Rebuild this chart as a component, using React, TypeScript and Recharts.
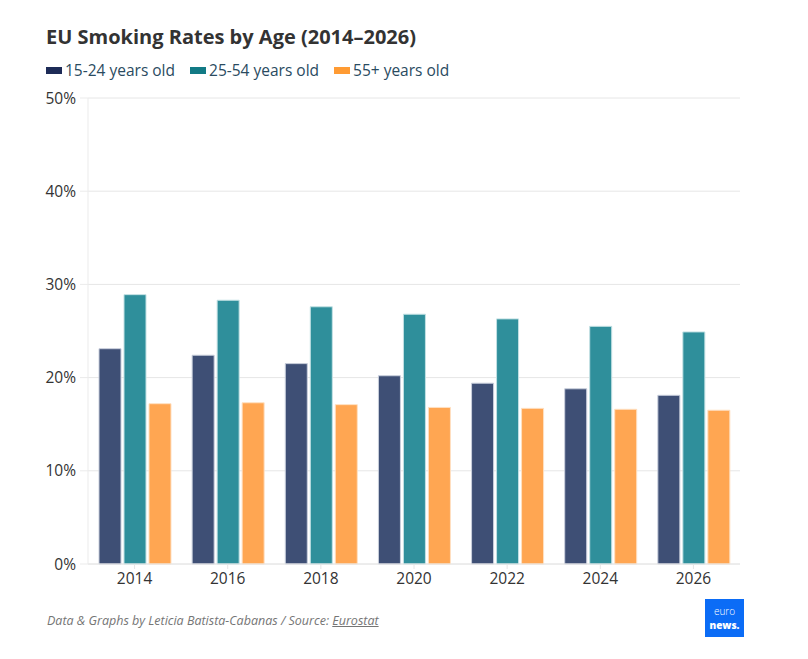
import React from 'react';
import { BarChart, Bar, XAxis, YAxis, CartesianGrid } from 'recharts';

const years = ['2014', '2016', '2018', '2020', '2022', '2024', '2026'];
const age15to24 = [23.1, 22.4, 21.5, 20.2, 19.4, 18.8, 18.1];
const age25to54 = [28.9, 28.3, 27.6, 26.8, 26.3, 25.5, 24.9];
const age55plus = [17.2, 17.3, 17.1, 16.8, 16.7, 16.6, 16.5];
const yTicks = [0, 10, 20, 30, 40, 50];

const data = years.map((year, i) => ({
  year,
  young: age15to24[i],
  middle: age25to54[i],
  older: age55plus[i],
}));

const series = [
  { key: 'young', name: '15-24 years old', fill: '#3e4f75', stroke: '#c9cfdc', swatch: '#1d2b57' },
  { key: 'middle', name: '25-54 years old', fill: '#2f8f9b', stroke: '#c3e1e4', swatch: '#127a85' },
  { key: 'older', name: '55+ years old', fill: '#ffa652', stroke: '#ffe0c2', swatch: '#ff9b33' },
];

const font = "'Open Sans', 'Noto Sans', sans-serif";

export default function App() {
  return (
    <div
      style={{
        position: 'absolute',
        left: 0,
        top: 0,
        width: 808,
        height: 659,
        background: '#fff',
        fontFamily: font,
        overflow: 'hidden',
      }}
    >
      <div
        style={{
          position: 'absolute',
          left: 46,
          top: 23,
          fontSize: 20,
          fontWeight: 700,
          color: '#333',
          whiteSpace: 'nowrap',
        }}
      >
        EU Smoking Rates by Age (2014–2026)
      </div>

      <div
        style={{
          position: 'absolute',
          left: 46,
          top: 59,
          display: 'flex',
          alignItems: 'center',
          fontSize: 15.5,
          color: '#2a4b5f',
          whiteSpace: 'nowrap',
        }}
      >
        {series.map((s) => (
          <div key={s.key} style={{ display: 'flex', alignItems: 'center', marginRight: 15 }}>
            <span
              style={{ display: 'inline-block', width: 16, height: 7, background: s.swatch, marginRight: 3 }}
            />
            {s.name}
          </div>
        ))}
      </div>

      <div style={{ position: 'absolute', left: 0, top: 0 }}>
        <BarChart
          width={808}
          height={659}
          data={data}
          margin={{ top: 98, right: 68, left: 0, bottom: 65 }}
          barSize={22}
          barGap={3}
        >
          <CartesianGrid vertical={false} stroke="#e6e6e6" />
          <XAxis
            dataKey="year"
            height={30}
            stroke="#e6e6e6"
            tickSize={5}
            tickMargin={4}
            tick={{ fill: '#333', fontSize: 15.5, fontFamily: font }}
          />
          <YAxis
            width={88}
            domain={[0, 50]}
            ticks={yTicks}
            tickFormatter={(v) => `${v}%`}
            stroke="#ebebeb"
            tickSize={8}
            tickMargin={4}
            tick={{ fill: '#333', fontSize: 15.5, fontFamily: font }}
          />
          {series.map((s) => (
            <Bar
              key={s.key}
              dataKey={s.key}
              name={s.name}
              fill={s.fill}
              stroke={s.stroke}
              strokeWidth={1}
              isAnimationActive={false}
            />
          ))}
        </BarChart>
      </div>

      <div
        style={{
          position: 'absolute',
          left: 47,
          top: 612,
          fontSize: 12.5,
          fontStyle: 'italic',
          color: '#757575',
          whiteSpace: 'nowrap',
        }}
      >
        Data &amp; Graphs by Leticia Batista-Cabanas / Source:{' '}
        <span style={{ textDecoration: 'underline' }}>Eurostat</span>
      </div>

      <div
        style={{
          position: 'absolute',
          left: 705,
          top: 599,
          width: 39,
          height: 38,
          background: '#0b6cf6',
          color: '#fff',
          display: 'flex',
          flexDirection: 'column',
          justifyContent: 'center',
          alignItems: 'center',
          lineHeight: '14px',
          fontSize: 10,
        }}
      >
        <span style={{ display: 'block', fontWeight: 300 }}>euro</span>
        <span style={{ display: 'block', fontWeight: 800 }}>news.</span>
      </div>
    </div>
  );
}
